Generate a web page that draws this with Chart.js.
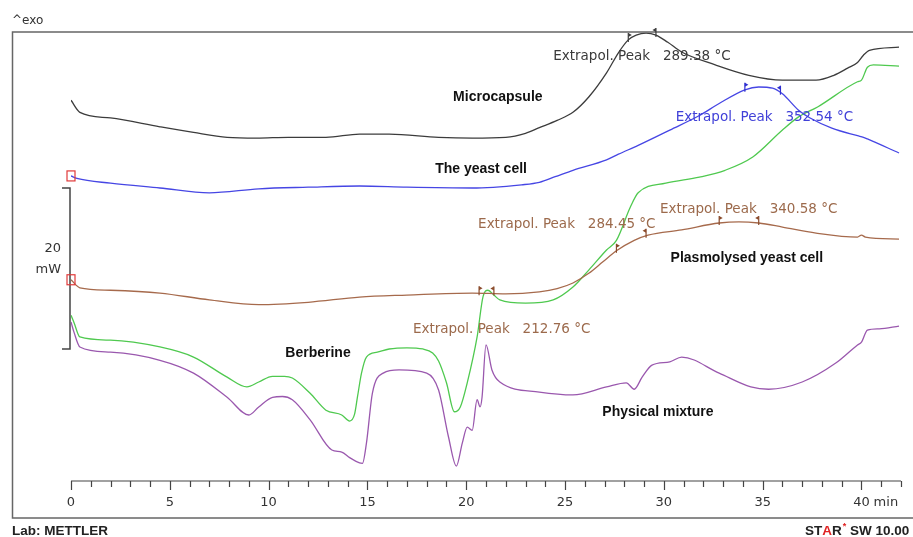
<!DOCTYPE html>
<html lang="en">
<head>
  <meta charset="UTF-8">
  <title>DSC thermograms</title>
  <script src="https://cdn.jsdelivr.net/npm/chart.js"></script>
  <style>
    body { margin: 0; background: #fff; }
    canvas { display: block; }
  </style>
</head>
<body>
  <canvas id="dsc" width="913" height="537"></canvas>

  <script>
    // time in min, heat flow in mW (arbitrary offset per curve)
    const microcapsule = [
      [0, 47.3], [0.45, 45.8], [2, 45.1], [4.5, 44.0], [6.2, 43.3], [7.9, 42.7], [9.4, 42.6], [11, 42.7],
      [12.9, 42.7], [14.6, 43.1], [16.1, 43.1], [18.6, 42.7], [20.3, 42.6], [22, 42.7], [23, 43.2],
      [23.7, 43.9], [24.6, 44.8], [25.4, 45.8], [26.2, 47.7], [27.1, 50.7], [27.7, 53.2], [28.2, 54.8],
      [28.6, 55.4], [29.1, 55.65], [29.6, 55.4], [30.2, 54.5], [30.9, 53.3], [32.6, 51.7], [34.3, 50.4],
      [36, 49.8], [37.7, 49.8], [38.6, 50.4], [39.3, 51.3], [39.8, 52.0], [40.1, 52.9], [40.4, 53.5], [41.9, 53.9]
    ];
    const yeastCell = [
      [0, 37.9], [0.3, 37.6], [2, 37.0], [4.5, 36.4], [7, 35.8], [9.5, 36.3], [12, 36.5], [14.6, 36.65],
      [17, 36.5], [20.3, 36.4], [22.8, 36.8], [23.7, 37.1], [24.5, 37.8], [25.4, 38.6], [27.1, 39.9],
      [27.7, 40.6], [28.7, 41.7], [30.3, 43.6], [31.8, 45.4], [32.8, 46.9], [34.1, 48.6], [34.8, 48.95],
      [35.5, 48.8], [36, 48.1], [36.8, 46.1], [37.4, 45.1], [38.5, 43.85], [39.8, 42.9], [40.1, 42.7],
      [40.3, 42.5], [41.9, 40.75]
    ];
    const plasmolysed = [
      [0, 25.0], [0.45, 24.0], [2, 23.7], [4.5, 23.35], [7, 22.5], [9.5, 21.9], [12, 22.2], [14.6, 22.85],
      [17, 23.1], [20.3, 23.35], [22, 23.25], [23.7, 23.5], [24.6, 23.9], [25.4, 24.6], [26.2, 25.8],
      [26.9, 27.2], [27.6, 28.6], [28.5, 29.9], [29.2, 30.55], [30.9, 31.2], [32.8, 32.05], [33.8, 32.2],
      [34.8, 32.05], [36, 31.55], [37.7, 30.8], [39.8, 30.3], [40.0, 30.55], [40.2, 30.3], [41.9, 30.05]
    ];
    const berberine = [
      [0, 20.6], [0.15, 19.7], [0.45, 17.9], [2, 17.5], [4.5, 16.65], [6.2, 15.4], [7.9, 12.9], [8.9, 11.7],
      [9.5, 12.3], [10.2, 13.0], [10.8, 13.0], [11.2, 12.8], [12.1, 10.9], [12.9, 8.8], [13.7, 8.2],
      [14.1, 7.45], [14.35, 8.3], [14.5, 10.5], [14.7, 13.4], [14.95, 15.4], [15.5, 16.0], [16.1, 16.4],
      [17.0, 16.55], [17.8, 16.4], [18.3, 15.9], [18.6, 14.9], [19.0, 12.2], [19.4, 8.6], [19.7, 9.2],
      [20.05, 12.2], [20.55, 17.9], [20.85, 22.9], [21.1, 23.7], [21.4, 23.1], [21.7, 22.5], [23, 22.1],
      [24.4, 22.5], [25.4, 24.1], [26.2, 26.2], [27.1, 28.7], [27.6, 29.9], [28.3, 34.0], [28.7, 35.8],
      [30.1, 37.0], [31.8, 37.75], [33.1, 38.6], [34.5, 40.25], [36, 43.6], [36.8, 45.2], [37.8, 46.5],
      [39.8, 49.6], [40.0, 49.8], [40.3, 51.4], [40.6, 51.7], [41.9, 51.55]
    ];
    const physicalMixture = [
      [0, 19.75], [0.15, 18.5], [0.45, 16.65], [2, 16.0], [4.5, 15.0], [6.2, 13.4], [7.9, 10.4], [9, 8.2],
      [9.5, 9.2], [10.2, 10.4], [10.7, 10.5], [11.2, 10.1], [12.1, 7.6], [13.2, 3.85], [13.7, 3.6],
      [14.1, 2.9], [14.6, 2.25], [14.75, 2.2], [14.95, 4.7], [15.25, 10.9], [15.8, 13.4], [16.6, 13.8],
      [18, 13.4], [18.6, 11.3], [19.1, 5.5], [19.5, 1.85], [19.8, 4.7], [20.05, 6.7], [20.3, 6.3],
      [20.55, 10.1], [20.7, 9.2], [20.8, 10.4], [21.0, 16.9], [21.3, 13.8], [21.7, 12.3], [23.7, 11.05],
      [25.4, 10.7], [27.1, 11.7], [28.1, 12.2], [28.5, 11.4], [28.9, 12.9], [29.4, 14.4], [30.3, 14.8],
      [30.9, 15.4], [32.8, 13.4], [34.4, 11.7], [35.3, 11.4], [37, 12.3], [38.7, 14.65], [39.8, 16.9],
      [40.0, 17.25], [40.3, 18.75], [40.9, 18.9], [41.9, 19.25]
    ];

    // evaluation limits (min) per peak, and peak temperatures
    const microLimits = [28.2, 29.6];
    const yeastLimits = [34.1, 35.9];
    const plasmoLimits = [20.65, 21.4, 27.6, 29.1, 32.8, 34.8];
    const peakTemps = ['289.38', '352.54', '340.58', '284.45', '212.76'];
    const xTicks = [0, 5, 10, 15, 20, 25, 30, 35, 40];

    const colors = {
      micro: '#3c3c3c',
      yeast: '#4646e4',
      plasmo: '#a66a4c',
      berb: '#4fc94f',
      mix: '#9a58ae'
    };

    function toXY(arr) {
      return arr.map(p => ({ x: p[0], y: p[1] }));
    }

    function valueAt(arr, t) {
      for (let i = 1; i < arr.length; i++) {
        if (arr[i][0] >= t) {
          const a = arr[i - 1], b = arr[i];
          return a[1] + (b[1] - a[1]) * (t - a[0]) / (b[0] - a[0]);
        }
      }
      return arr[arr.length - 1][1];
    }

    const curveLabels = [
      { text: 'Microcapsule', t: 21.6, v: 47.7 },
      { text: 'The yeast cell', t: 20.75, v: 38.8 },
      { text: 'Plasmolysed yeast cell', t: 34.2, v: 27.7 },
      { text: 'Berberine', t: 12.5, v: 15.9 },
      { text: 'Physical mixture', t: 29.7, v: 8.6 }
    ];
    const peakLabels = [
      { temp: peakTemps[0], t: 24.4, v: 52.7, color: '#3a3a3a' },
      { temp: peakTemps[1], t: 30.6, v: 45.2, color: '#4040d8' },
      { temp: peakTemps[2], t: 29.8, v: 33.7, color: '#9c6a4c' },
      { temp: peakTemps[3], t: 20.6, v: 31.9, color: '#9c6a4c' },
      { temp: peakTemps[4], t: 17.3, v: 18.8, color: '#9c6a4c' }
    ];

    const decorations = {
      id: 'decorations',
      afterDraw(chart) {
        const { ctx, chartArea: area, scales: { x, y } } = chart;
        ctx.save();

        // frame
        ctx.strokeStyle = '#666';
        ctx.lineWidth = 1.5;
        ctx.strokeRect(12.5, 32, 930, 486);

        // time axis
        const yAxis = area.bottom;
        ctx.strokeStyle = '#444';
        ctx.lineWidth = 1.2;
        ctx.beginPath();
        ctx.moveTo(x.getPixelForValue(0), yAxis);
        ctx.lineTo(x.getPixelForValue(42), yAxis);
        for (let i = 0; i <= 42; i++) {
          const px = Math.round(x.getPixelForValue(i)) + 0.5;
          ctx.moveTo(px, yAxis);
          ctx.lineTo(px, yAxis + (i % 5 === 0 ? 9 : 6));
        }
        ctx.stroke();

        ctx.fillStyle = '#333';
        ctx.font = '13px "DejaVu Sans"';
        ctx.textBaseline = 'middle';
        ctx.textAlign = 'center';
        xTicks.forEach(v => ctx.fillText(String(v), x.getPixelForValue(v), 503));
        ctx.textAlign = 'left';
        ctx.fillText(' min', x.getPixelForValue(40) + 8, 503);

        // corner texts
        ctx.font = '12px "DejaVu Sans"';
        ctx.fillText('^exo', 12, 21);
        ctx.font = 'bold 13.5px "Liberation Sans"';
        ctx.fillStyle = '#222';
        ctx.fillText('Lab: METTLER', 12, 531);
        let sx = 805;
        [['ST', '#222'], ['A', '#e02424'], ['R', '#222']].forEach(([s, c]) => {
          ctx.fillStyle = c;
          ctx.fillText(s, sx, 531);
          sx += ctx.measureText(s).width;
        });
        ctx.fillStyle = '#e02424';
        ctx.font = 'bold 9px "Liberation Sans"';
        ctx.fillText('*', sx + 1, 527);
        sx += ctx.measureText('*').width + 1;
        ctx.fillStyle = '#222';
        ctx.font = 'bold 13.5px "Liberation Sans"';
        ctx.fillText(' SW 10.00', sx, 531);

        // 20 mW scale bar
        const x0 = x.getPixelForValue(0) - 1;
        const top = y.getPixelForValue(36.4);
        const bot = y.getPixelForValue(36.4 - 20);
        ctx.strokeStyle = '#444';
        ctx.lineWidth = 1.5;
        ctx.beginPath();
        ctx.moveTo(x0 - 8, top);
        ctx.lineTo(x0, top);
        ctx.lineTo(x0, bot);
        ctx.lineTo(x0 - 8, bot);
        ctx.stroke();
        ctx.fillStyle = '#333';
        ctx.font = '13px "DejaVu Sans"';
        ctx.textAlign = 'right';
        ctx.fillText('20', 61, 249);
        ctx.fillText('mW', 61, 270);

        // red start markers
        ctx.strokeStyle = '#e03a3a';
        ctx.lineWidth = 1.2;
        [yeastCell, plasmolysed].forEach(arr => {
          const px = x.getPixelForValue(0);
          const py = y.getPixelForValue(arr[0][1]);
          ctx.strokeRect(px - 4, py - 5, 8, 10);
        });

        // evaluation limit flags
        function flags(arr, limits, color) {
          ctx.strokeStyle = color;
          ctx.fillStyle = color;
          ctx.lineWidth = 1.2;
          limits.forEach((t, i) => {
            const px = x.getPixelForValue(t);
            const py = y.getPixelForValue(valueAt(arr, t));
            const dir = i % 2 === 0 ? 1 : -1;
            ctx.beginPath();
            ctx.moveTo(px, py + 2);
            ctx.lineTo(px, py - 7);
            ctx.stroke();
            ctx.beginPath();
            ctx.moveTo(px, py - 7);
            ctx.lineTo(px + 3.5 * dir, py - 5);
            ctx.lineTo(px, py - 3);
            ctx.closePath();
            ctx.fill();
          });
        }
        flags(microcapsule, microLimits, colors.micro);
        flags(yeastCell, yeastLimits, '#2f2fd0');
        flags(plasmolysed, plasmoLimits, '#8a4a2a');

        // peak annotations
        ctx.textAlign = 'left';
        ctx.font = '13.5px "DejaVu Sans"';
        peakLabels.forEach(l => {
          ctx.fillStyle = l.color;
          ctx.fillText('Extrapol. Peak   ' + l.temp + ' \u00B0C', x.getPixelForValue(l.t), y.getPixelForValue(l.v));
        });

        // curve names
        ctx.textAlign = 'center';
        ctx.fillStyle = '#111';
        ctx.font = 'bold 14px "Liberation Sans"';
        curveLabels.forEach(l => {
          ctx.fillText(l.text, x.getPixelForValue(l.t), y.getPixelForValue(l.v));
        });

        ctx.restore();
      }
    };

    function line(data, color) {
      return {
        data: toXY(data),
        borderColor: color,
        borderWidth: 1.3,
        pointRadius: 0,
        fill: false,
        cubicInterpolationMode: 'monotone'
      };
    }

    new Chart(document.getElementById('dsc'), {
      type: 'line',
      data: {
        datasets: [
          line(microcapsule, colors.micro),
          line(yeastCell, colors.yeast),
          line(plasmolysed, colors.plasmo),
          line(berberine, colors.berb),
          line(physicalMixture, colors.mix)
        ]
      },
      options: {
        responsive: false,
        animation: false,
        layout: { padding: { left: 71, right: 12, top: 32, bottom: 56 } },
        plugins: { legend: { display: false }, tooltip: { enabled: false } },
        scales: {
          x: { type: 'linear', min: 0, max: 42, display: false },
          y: { min: 0, max: 55.78, display: false }
        }
      },
      plugins: [decorations]
    });
  </script>
</body>
</html>
